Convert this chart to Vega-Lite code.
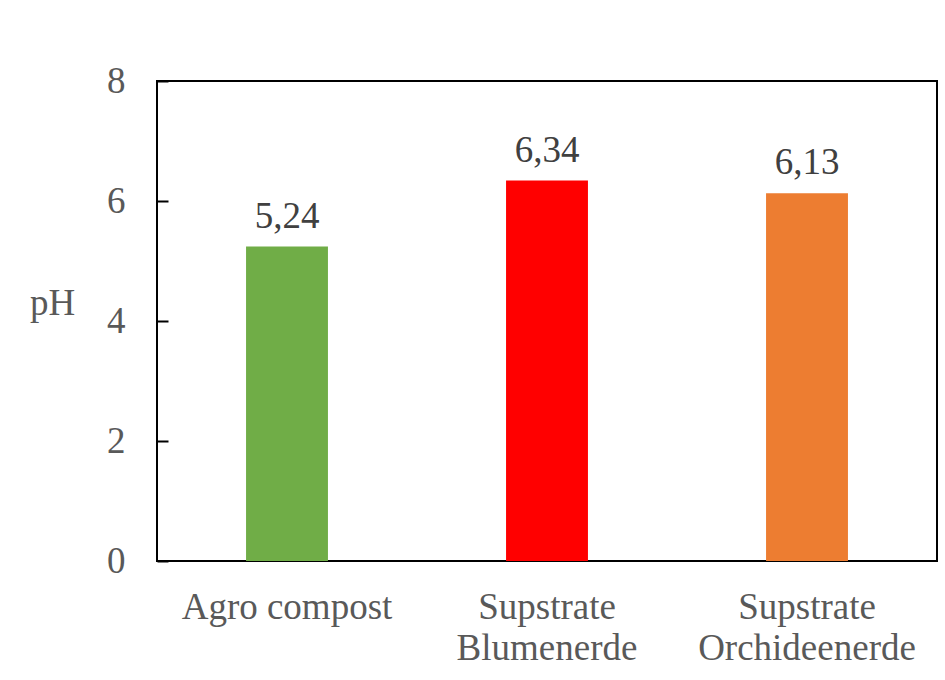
{
  "$schema": "https://vega.github.io/schema/vega-lite/v6.json",
  "autosize": "none",
  "width": 780,
  "height": 480,
  "padding": {"left": 157, "top": 81, "right": 8, "bottom": 119},
  "background": "white",
  "config": {
    "view": {"stroke": "black", "strokeWidth": 2},
    "font": "Liberation Serif"
  },
  "data": {
    "values": [
      {"substrate": "Agro compost", "pH": 5.24, "label": "5,24", "color": "#70AD47"},
      {"substrate": "Supstrate Blumenerde", "pH": 6.34, "label": "6,34", "color": "#FF0000"},
      {"substrate": "Supstrate Orchideenerde", "pH": 6.13, "label": "6,13", "color": "#ED7D31"}
    ]
  },
  "encoding": {
    "x": {
      "field": "substrate",
      "type": "nominal",
      "sort": null,
      "scale": {"paddingInner": 0.685, "paddingOuter": 0.3425},
      "axis": {
        "title": null,
        "domain": false,
        "ticks": false,
        "labelAngle": 0,
        "labelLimit": 0,
        "labelFont": "Liberation Serif",
        "labelFontSize": 37,
        "labelColor": "#595959",
        "labelPadding": 28,
        "labelBaseline": "top",
        "labelLineHeight": 41,
        "labelExpr": "indexof(datum.label, 'Supstrate ') == 0 ? ['Supstrate', substring(datum.label, 10)] : datum.label"
      }
    },
    "y": {
      "field": "pH",
      "type": "quantitative",
      "scale": {"domain": [0, 8], "nice": false},
      "axis": {
        "title": "pH",
        "values": [0, 2, 4, 6, 8],
        "grid": false,
        "domain": false,
        "ticks": true,
        "tickSize": -11,
        "tickWidth": 2,
        "tickColor": "black",
        "labelFont": "Liberation Serif",
        "labelFontSize": 37,
        "labelColor": "#595959",
        "labelPadding": 43,
        "titleFont": "Liberation Serif",
        "titleFontSize": 37,
        "titleFontWeight": "normal",
        "titleColor": "#595959",
        "titleAngle": 0,
        "titleAlign": "center",
        "titleBaseline": "alphabetic",
        "titleX": -105,
        "titleY": 233
      }
    }
  },
  "layer": [
    {
      "mark": {"type": "bar"},
      "encoding": {
        "color": {"field": "color", "type": "nominal", "scale": null, "legend": null}
      }
    },
    {
      "mark": {"type": "text", "baseline": "alphabetic", "dy": -19, "font": "Liberation Serif", "fontSize": 37, "color": "#404040"},
      "encoding": {
        "text": {"field": "label"}
      }
    }
  ]
}
